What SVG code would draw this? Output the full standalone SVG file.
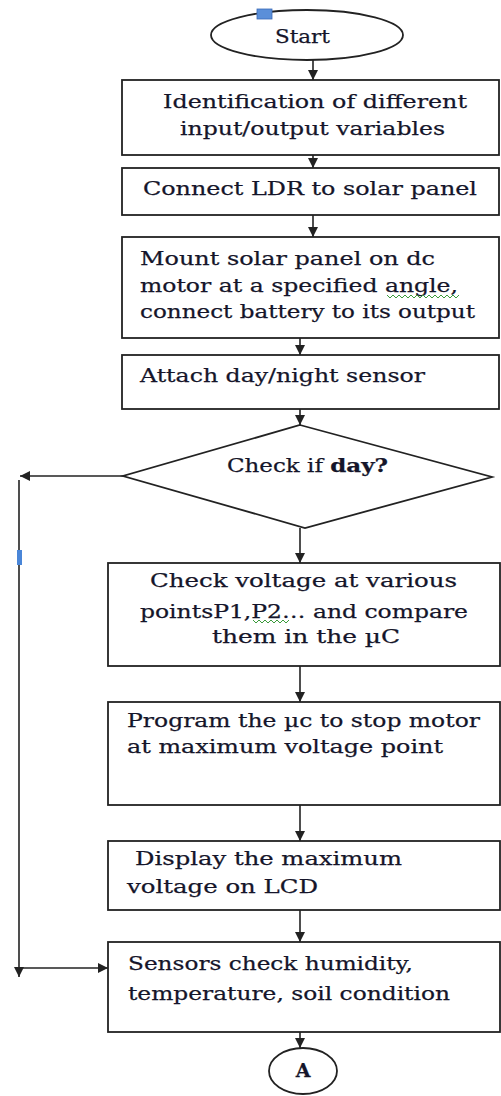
<svg xmlns="http://www.w3.org/2000/svg" width="501" height="1096" viewBox="0 0 501 1096">
<style>
.box{fill:#fff;stroke:#222;stroke-width:1.8}
.t{font-family:"DejaVu Serif","Liberation Serif",serif;font-size:19px;fill:#15152a;stroke:#15152a;stroke-width:0.25}
.c{fill:none;stroke:#222;stroke-width:1.6}
.sq{fill:none;stroke:#3a9a3a;stroke-width:1}
</style>
<defs>
<marker id="ah" markerUnits="userSpaceOnUse" markerWidth="10" markerHeight="10" refX="10" refY="5" orient="auto" viewBox="0 0 10 10">
<path d="M0,0 L10,5 L0,10 z" fill="#222"/>
</marker>
</defs>
<rect width="501" height="1096" fill="#fff"/>
<g id="connectors">
<line class="c" x1="313" y1="60" x2="313" y2="80" marker-end="url(#ah)"/>
<line class="c" x1="313" y1="155" x2="313" y2="168" marker-end="url(#ah)"/>
<line class="c" x1="313" y1="215" x2="313" y2="237" marker-end="url(#ah)"/>
<line class="c" x1="300" y1="338" x2="300" y2="355" marker-end="url(#ah)"/>
<line class="c" x1="300" y1="409" x2="300" y2="425" marker-end="url(#ah)"/>
<line class="c" x1="300" y1="528" x2="300" y2="563" marker-end="url(#ah)"/>
<line class="c" x1="300" y1="666" x2="300" y2="702" marker-end="url(#ah)"/>
<line class="c" x1="300" y1="805" x2="300" y2="841" marker-end="url(#ah)"/>
<line class="c" x1="300" y1="910" x2="300" y2="942" marker-end="url(#ah)"/>
<line class="c" x1="300" y1="1032" x2="300" y2="1048" marker-end="url(#ah)"/>
<line class="c" x1="123" y1="476" x2="20" y2="476" marker-end="url(#ah)"/>
<line class="c" x1="19" y1="480" x2="19" y2="977" marker-end="url(#ah)"/>
<line class="c" x1="19" y1="968" x2="108" y2="968" marker-end="url(#ah)"/>
<rect x="17" y="550" width="5" height="15" fill="#4a86d8"/>
</g>
<g id="start">
<ellipse class="box" cx="307" cy="35" rx="96" ry="25"/>
<rect x="257" y="9" width="15" height="10" fill="#5b8fd9" stroke="#3a6ab8" stroke-width="0.8"/>
<text class="t" x="275" y="43" textLength="55" lengthAdjust="spacingAndGlyphs">Start</text>
</g>
<g id="n1">
<rect class="box" x="122" y="80" width="377" height="75"/>
<text class="t" x="163" y="108" textLength="304" lengthAdjust="spacingAndGlyphs">Identification of different</text>
<text class="t" x="180" y="135" textLength="265" lengthAdjust="spacingAndGlyphs">input/output variables</text>
</g>
<g id="n2">
<rect class="box" x="122" y="168" width="377" height="47"/>
<text class="t" x="143" y="195" textLength="334" lengthAdjust="spacingAndGlyphs">Connect LDR to solar panel</text>
</g>
<g id="n3">
<rect class="box" x="122" y="237" width="377" height="101"/>
<text class="t" x="140" y="265" textLength="295" lengthAdjust="spacingAndGlyphs">Mount solar panel on dc</text>
<text class="t" x="140" y="292" textLength="318" lengthAdjust="spacingAndGlyphs">motor at a specified angle,</text>
<text class="t" x="140" y="318" textLength="335" lengthAdjust="spacingAndGlyphs">connect battery to its output</text>
<path class="sq" d="M387,295 l3,3 l3,-3 l3,3 l3,-3 l3,3 l3,-3 l3,3 l3,-3 l3,3 l3,-3 l3,3 l3,-3 l3,3 l3,-3 l3,3 l3,-3 l3,3 l3,-3 l3,3 l3,-3 l3,3 l3,-3 l3,3 l3,-3"/>
</g>
<g id="n4">
<rect class="box" x="122" y="355" width="377" height="54"/>
<text class="t" x="140" y="382" textLength="285" lengthAdjust="spacingAndGlyphs">Attach day/night sensor</text>
</g>
<g id="decision">
<polygon class="box" points="300,425 492,477 305,528 123,476"/>
<text class="t" x="227" y="472" textLength="161" lengthAdjust="spacingAndGlyphs">Check if <tspan font-weight="bold">day?</tspan></text>
</g>
<g id="n5">
<rect class="box" x="108" y="563" width="392" height="103"/>
<text class="t" x="150" y="587" textLength="307" lengthAdjust="spacingAndGlyphs">Check voltage at various</text>
<text class="t" x="140" y="618" textLength="328" lengthAdjust="spacingAndGlyphs">pointsP1,P2… and compare</text>
<text class="t" x="212" y="643" textLength="188" lengthAdjust="spacingAndGlyphs">them in the µC</text>
<path class="sq" d="M253,620 l3,3 l3,-3 l3,3 l3,-3 l3,3 l3,-3 l3,3 l3,-3 l3,3 l3,-3 l3,3 l3,-3"/>
</g>
<g id="n6">
<rect class="box" x="108" y="702" width="392" height="103"/>
<text class="t" x="127" y="727" textLength="353" lengthAdjust="spacingAndGlyphs">Program the µc to stop motor</text>
<text class="t" x="127" y="753" textLength="316" lengthAdjust="spacingAndGlyphs">at maximum voltage point</text>
</g>
<g id="n7">
<rect class="box" x="108" y="841" width="392" height="69"/>
<text class="t" x="135" y="865" textLength="267" lengthAdjust="spacingAndGlyphs">Display the maximum</text>
<text class="t" x="127" y="893" textLength="191" lengthAdjust="spacingAndGlyphs">voltage on LCD</text>
</g>
<g id="n8">
<rect class="box" x="108" y="942" width="392" height="90"/>
<text class="t" x="128" y="970" textLength="285" lengthAdjust="spacingAndGlyphs">Sensors check humidity,</text>
<text class="t" x="128" y="1000" textLength="322" lengthAdjust="spacingAndGlyphs">temperature, soil condition</text>
</g>
<g id="connA">
<ellipse class="box" cx="303" cy="1071" rx="34" ry="23"/>
<text class="t" x="303" y="1077" text-anchor="middle" font-weight="bold">A</text>
</g>
</svg>
